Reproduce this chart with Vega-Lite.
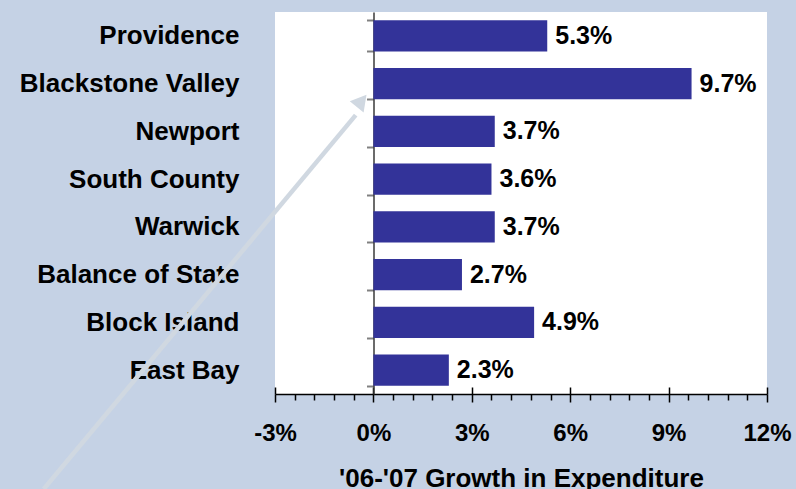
{
  "$schema": "https://vega.github.io/schema/vega-lite/v6.json",
  "width": 492,
  "height": 382,
  "autosize": {"type": "none"},
  "padding": {"left": 275, "top": 12, "right": 29, "bottom": 95},
  "background": "#c5d2e5",
  "config": {
    "view": {"fill": "white", "stroke": null},
    "font": "Liberation Sans"
  },
  "datasets": {
    "bars": [
      {"region": "Providence", "growth": 5.3, "label": "5.3%"},
      {"region": "Blackstone Valley", "growth": 9.7, "label": "9.7%"},
      {"region": "Newport", "growth": 3.7, "label": "3.7%"},
      {"region": "South County", "growth": 3.6, "label": "3.6%"},
      {"region": "Warwick", "growth": 3.7, "label": "3.7%"},
      {"region": "Balance of State", "growth": 2.7, "label": "2.7%"},
      {"region": "Block Island", "growth": 4.9, "label": "4.9%"},
      {"region": "East Bay", "growth": 2.3, "label": "2.3%"}
    ],
    "arrow": [
      {"x": -10.05, "y": 9.99, "x2": -0.54, "y2": 2.16}
    ],
    "arrowhead": [
      {"x": -0.36, "y": 1.86}
    ]
  },
  "resolve": {"scale": {"y": "independent"}, "axis": {"x": "independent", "y": "independent"}},
  "layer": [
    {
      "data": {"name": "bars"},
      "mark": {"type": "bar", "color": "#333399"},
      "encoding": {
        "y": {
          "field": "region", "type": "nominal", "sort": null,
          "scale": {"paddingInner": 0.35, "paddingOuter": 0.175},
          "axis": {
            "title": null, "offset": -98.5, "tickBand": "extent",
            "tickSize": 7, "tickWidth": 2, "tickColor": "#808080",
            "domainColor": "#3a3a3a", "domainWidth": 1.5,
            "labelFont": "Liberation Sans", "labelFontWeight": "bold", "labelFontSize": 26,
            "labelColor": "#000000", "labelPadding": 127.5, "labelLimit": 400
          }
        },
        "x": {
          "field": "growth", "type": "quantitative",
          "scale": {"domain": [-3, 12], "nice": false, "zero": false},
          "axis": {
            "orient": "bottom",
            "values": [-3, 0, 3, 6, 9, 12], "grid": false,
            "labelExpr": "datum.value + '%'",
            "domainColor": "#000000", "domainWidth": 1.5,
            "tickColor": "#000000", "tickWidth": 1.5, "tickSize": 8,
            "labelFont": "Liberation Sans", "labelFontWeight": "bold", "labelFontSize": 24,
            "labelColor": "#000000", "labelBaseline": "alphabetic", "labelPadding": 38.5,
            "labelFlush": false, "labelOverlap": false,
            "title": "'06-'07 Growth in Expenditure",
            "titleFont": "Liberation Sans", "titleFontWeight": "bold", "titleFontSize": 26,
            "titleColor": "#000000", "titleBaseline": "alphabetic", "titleY": 92.5
          }
        }
      }
    },
    {
      "data": {"name": "bars"},
      "mark": {"type": "text", "align": "left", "baseline": "middle", "dx": 8, "font": "Liberation Sans", "fontWeight": "bold", "fontSize": 25, "color": "#000000"},
      "encoding": {
        "y": {"field": "region", "type": "nominal", "sort": null, "scale": {"paddingInner": 0.35, "paddingOuter": 0.175}, "axis": null},
        "x": {
          "field": "growth", "type": "quantitative",
          "scale": {"domain": [-3, 12], "nice": false, "zero": false},
          "axis": {
            "orient": "bottom",
            "values": [-2.4, -1.8, -1.2, -0.6, 0.6, 1.2, 1.8, 2.4, 3.6, 4.2, 4.8, 5.4, 6.6, 7.2, 7.8, 8.4, 9.6, 10.2, 10.8, 11.4],
            "grid": false, "domain": false, "labels": false, "title": null,
            "tickColor": "#000000", "tickWidth": 1.5, "tickSize": 6
          }
        },
        "text": {"field": "label"}
      }
    },
    {
      "data": {"name": "arrow"},
      "mark": {"type": "rule", "color": "#d0d8e1", "strokeWidth": 4.5, "clip": false},
      "encoding": {
        "x": {
          "field": "x", "type": "quantitative",
          "scale": {"domain": [-3, 12], "nice": false, "zero": false},
          "axis": {
            "orient": "bottom",
            "values": [-3, 0, 3, 6, 9, 12], "grid": false, "domain": false, "labels": false, "title": null,
            "tickColor": "#000000", "tickWidth": 1.5, "tickSize": -7
          }
        },
        "x2": {"field": "x2"},
        "y": {"field": "y", "type": "quantitative", "scale": {"domain": [0, 8], "reverse": true, "nice": false, "zero": false}, "axis": null},
        "y2": {"field": "y2"}
      }
    },
    {
      "data": {"name": "arrowhead"},
      "mark": {"type": "point", "shape": "triangle-up", "filled": true, "color": "#d0d8e1", "opacity": 1, "size": 320, "angle": 39.3, "clip": false},
      "encoding": {
        "x": {"field": "x", "type": "quantitative", "scale": {"domain": [-3, 12], "nice": false, "zero": false}, "axis": null},
        "y": {"field": "y", "type": "quantitative", "scale": {"domain": [0, 8], "reverse": true, "nice": false, "zero": false}, "axis": null}
      }
    }
  ]
}
